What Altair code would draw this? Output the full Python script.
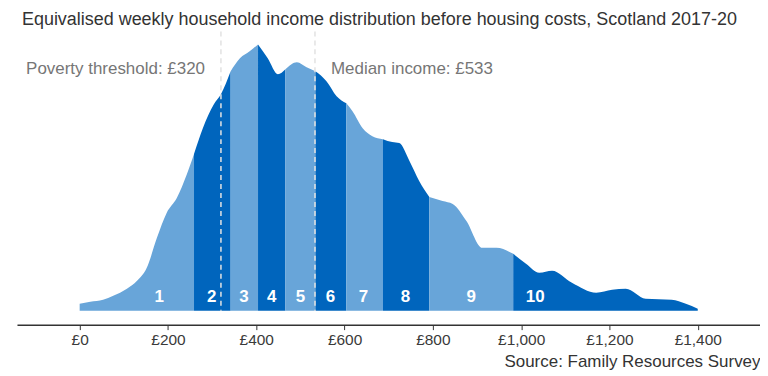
import altair as alt
import pandas as pd

# Income (GBP per week) and curve height (relative density)
income = [0, 24, 53, 76, 107, 130, 152, 175, 197, 220, 243, 259, 279, 304, 320, 342,
          363, 385, 404, 426, 449, 466, 492, 514, 534, 559, 582, 604, 618, 641, 663,
          687, 708, 724, 747, 769, 792, 822, 845, 876, 912, 944, 982, 1011, 1041,
          1070, 1115, 1170, 1206, 1237, 1282, 1341, 1373, 1400]
density = [7, 9, 11, 15, 22, 30, 43, 73, 98, 113, 137, 157, 183, 207, 217, 240,
           253, 260, 267, 253, 237, 242, 249, 244, 240, 230, 215, 208, 200, 183, 175,
           172, 169, 168, 150, 130, 114, 110, 107, 90, 63, 63, 57, 47, 38,
           40, 28, 18, 21, 22, 12, 11, 7, 2]

decile_bounds = [0, 259, 342, 404, 466, 534, 604, 687, 792, 982, 1400]
decile_labels = ["1", "2", "3", "4", "5", "6", "7", "8", "9", "10"]
label_income = [180, 299, 372, 435, 500, 568, 643, 738, 887, 1032]

poverty_threshold = 320
median_income = 533
tick_values = [0, 200, 400, 600, 800, 1000, 1200, 1400]

LIGHT = "#68a5d9"
DARK = "#0065bd"
FONT = "Liberation Sans"

rows = []
for d in range(10):
    lo, hi = decile_bounds[d], decile_bounds[d + 1]
    for inc, den in zip(income, density):
        if lo <= inc <= hi:
            rows.append({"income": inc, "density": den, "decile": d + 1,
                         "shade": "light" if d % 2 == 0 else "dark"})
area_df = pd.DataFrame(rows)

lab_df = pd.DataFrame({"income": label_income, "label": decile_labels, "y": [14] * 10})
ref_df = pd.DataFrame({"income": [poverty_threshold, median_income], "top": [280, 280], "bot": [0, 0]})
ann_df = pd.DataFrame({
    "income": [poverty_threshold, median_income],
    "text": ["Poverty threshold: £320", "Median income: £533"],
    "y": [242, 242],
})

xscale = alt.Scale(domain=[-142, 1541], nice=False, zero=False)
yscale = alt.Scale(domain=[-14, 280], nice=False, zero=False)

x_axis = alt.Axis(
    values=tick_values,
    labelExpr="'£' + format(datum.value, ',')",
    grid=False, domainColor="#333333", domainWidth=1.5, tickColor="#333333",
    tickSize=5, tickWidth=1, labelFontSize=15.5, labelColor="#3a3a3a", labelFont=FONT,
    labelPadding=3, title="Source: Family Resources Survey", titleAnchor="end",
    titleAlign="right", titleFontWeight="normal", titleFontSize=17, titleFont=FONT,
    titleColor="#333333", titlePadding=5,
)

area = alt.Chart(area_df).mark_area(interpolate="monotone").encode(
    x=alt.X("income:Q", scale=xscale, axis=x_axis),
    y=alt.Y("density:Q", scale=yscale, axis=None, stack=None),
    color=alt.Color("shade:N", scale=alt.Scale(domain=["light", "dark"], range=[LIGHT, DARK]), legend=None),
    detail="decile:N",
)

labels = alt.Chart(lab_df).mark_text(color="white", fontWeight="bold", fontSize=17, font=FONT).encode(
    x=alt.X("income:Q", scale=xscale),
    y=alt.Y("y:Q", scale=yscale),
    text="label:N",
)

rules = alt.Chart(ref_df).mark_rule(color="#e2e2e2", strokeDash=[5, 4], strokeWidth=1.5).encode(
    x=alt.X("income:Q", scale=xscale),
    y=alt.Y("top:Q", scale=yscale),
    y2="bot:Q",
)

ann_left = alt.Chart(ann_df.iloc[[0]]).mark_text(align="right", dx=-16, fontSize=17, color="#767676", font=FONT).encode(
    x=alt.X("income:Q", scale=xscale), y=alt.Y("y:Q", scale=yscale), text="text:N")
ann_right = alt.Chart(ann_df.iloc[[1]]).mark_text(align="left", dx=16, fontSize=17, color="#767676", font=FONT).encode(
    x=alt.X("income:Q", scale=xscale), y=alt.Y("y:Q", scale=yscale), text="text:N")

chart = alt.layer(area, rules, labels, ann_left, ann_right).properties(
    width=745, height=294,
    padding={"left": 9, "top": 2, "right": 0, "bottom": 0},
    title=alt.TitleParams(
        "Equivalised weekly household income distribution before housing costs, Scotland 2017-20",
        anchor="start", fontSize=18, font=FONT, fontWeight="normal", color="#333333",
        offset=2, dx=5,
    ),
).configure_view(stroke=None)

chart.save("out.html", embed_options={"renderer": "svg", "actions": False})
